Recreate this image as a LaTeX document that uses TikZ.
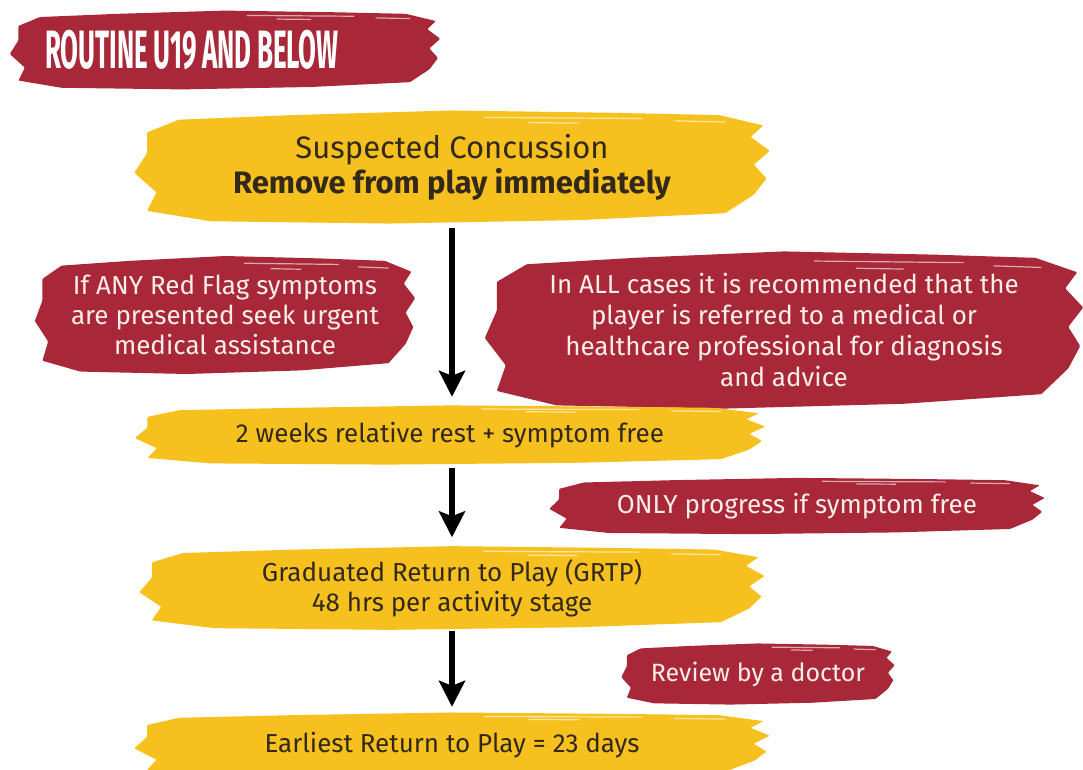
\documentclass[tikz,border=0pt]{standalone}
\usepackage{fontspec}
\setmainfont{Fira Sans}
\usepackage{graphicx}
\usepackage{tikz}
\usetikzlibrary{arrows.meta, positioning, calc, backgrounds}
\definecolor{brushRed}{HTML}{A82839}
\definecolor{brushYellow}{HTML}{F6C11F}
\definecolor{inkDark}{HTML}{33291A}
\definecolor{inkLight}{HTML}{FBEDE8}

% brush stroke filling the box of node #1
\newcommand{\brushfill}[2]{%
  \fill[#2, rounded corners=1pt] let \p1=(#1.south west), \p2=(#1.north east) in
    ({\x1+0.02*(\x2-\x1)},{\y1+0.80*(\y2-\y1)})
    \foreach \u/\v in {0.07/0.91, 0.25/0.95, 0.50/0.99, 0.75/0.97, 0.92/0.95, 0.99/0.86,
      0.97/0.76, 1.0/0.64, 0.975/0.52, 0.995/0.40, 0.975/0.26, 0.93/0.10, 0.70/0.04,
      0.40/0.01, 0.12/0.03, 0.02/0.12, 0.035/0.28, 0.0/0.45, 0.02/0.62}
    { -- ({\x1+\u*(\x2-\x1)},{\y1+\v*(\y2-\y1)}) } -- cycle;
  \draw[white, opacity=0.6, line width=1.2pt] let \p1=(#1.south west), \p2=(#1.north east) in
    ({\x1+0.55*(\x2-\x1)},{\y1+0.93*(\y2-\y1)}) -- ({\x1+0.80*(\x2-\x1)},{\y1+0.92*(\y2-\y1)})
    ({\x1+0.62*(\x2-\x1)},{\y1+0.885*(\y2-\y1)}) -- ({\x1+0.70*(\x2-\x1)},{\y1+0.88*(\y2-\y1)})
    ({\x1+0.85*(\x2-\x1)},{\y1+0.90*(\y2-\y1)}) -- ({\x1+0.93*(\x2-\x1)},{\y1+0.89*(\y2-\y1)});}

\begin{document}
\begin{tikzpicture}[x=1pt, y=-1pt,
  box/.style 2 args={minimum width=#1, minimum height=#2, inner sep=0pt, align=center},
  yellowbox/.style 2 args={box={#1}{#2}, text=inkDark, font=\fontsize{26}{30}\selectfont},
  redbox/.style 2 args={box={#1}{#2}, text=inkLight, font=\fontsize{26}{30}\selectfont},
  flow/.style={line width=6pt, -{Stealth[length=26pt, width=26pt, inset=5pt]}}]
\useasboundingbox (0,0) rectangle (1083,769);

\node[box={430pt}{80pt}, text=white, text width=360pt, inner xsep=35pt, align=left]
  (title) at (225,50) {\fontsize{54}{54}\selectfont\bfseries
  \scalebox{0.48}[1]{ROUTINE\hspace{0.15em} U19\hspace{0.15em} AND\hspace{0.15em} BELOW}};

\node[yellowbox={635pt}{115pt}, font=\fontsize{31}{35}\selectfont] (susp) at (452,167)
  {Suspected Concussion\\\textbf{Remove from play immediately}};
\node[redbox={380pt}{120pt}] (redflag) at (225,315)
  {If ANY Red Flag symptoms\\are presented seek urgent\\medical assistance};
\node[redbox={598pt}{160pt}, font=\fontsize{26}{31}\selectfont] (referral) at (784,330)
  {In ALL cases it is recommended that the\\player is referred to a medical or\\healthcare professional for diagnosis\\and advice};
\node[yellowbox={630pt}{60pt}] (rest) at (450,435)
  {2 weeks relative rest + symptom free};
\node[redbox={495pt}{57pt}] (progress) at (797,506)
  {ONLY progress if symptom free};
\node[yellowbox={625pt}{85pt}] (grtp) at (452,588)
  {Graduated Return to Play (GRTP)\\48 hrs per activity stage};
\node[redbox={273pt}{62pt}, font=\fontsize{25}{30}\selectfont] (review) at (758,674)
  {Review by a doctor};
\node[yellowbox={635pt}{66pt}] (earliest) at (452,745)
  {Earliest Return to Play = 23 days};

\begin{scope}[on background layer]
  \foreach \nd/\col in {title/brushRed, susp/brushYellow, redflag/brushRed, referral/brushRed,
    rest/brushYellow, progress/brushRed, grtp/brushYellow, review/brushRed, earliest/brushYellow}
    {\brushfill{\nd}{\col}}
\end{scope}

\draw[flow, shorten <=3pt, shorten >=8pt] (susp.south) -- (susp.south |- rest.north);
\draw[flow, shorten <=3pt, shorten >=8pt] (susp.south |- rest.south) -- (susp.south |- grtp.north);
\draw[flow, shorten >=5pt] (susp.south |- grtp.south) -- (susp.south |- earliest.north);
\end{tikzpicture}
\end{document}
